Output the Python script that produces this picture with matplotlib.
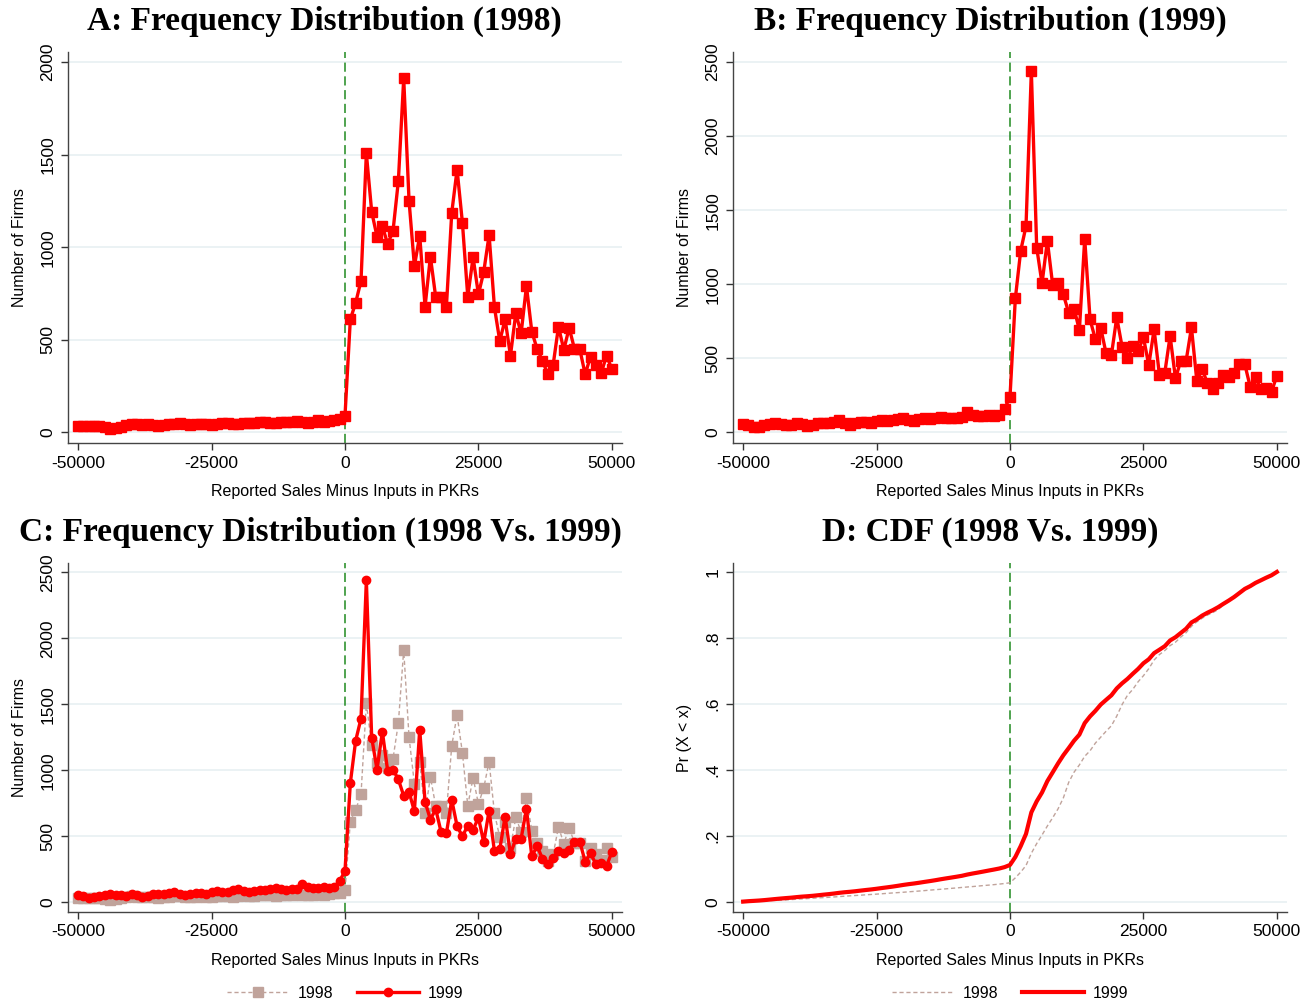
import matplotlib.pyplot as plt
import numpy as np
from matplotlib.lines import Line2D

# bins of 1000 PKR, -50000 .. 50000
bins = np.arange(-50000, 50001, 1000)

freq_1998_neg = [32, 35, 33, 36, 34, 28, 16, 24, 30, 40,
                 45, 42, 38, 44, 40, 36, 38, 42, 45, 48,
                 44, 40, 42, 46, 44, 40, 46, 50, 48, 42,
                 46, 52, 50, 48, 54, 58, 52, 50, 56, 58,
                 54, 60, 56, 52, 58, 64, 55, 60, 68, 72]
freq_1998_pos = [90, 610, 700, 819, 1507, 1192, 1057, 1114, 1017, 1089,
                 1359, 1912, 1251, 898, 1062, 679, 949, 729, 729, 679,
                 1186, 1420, 1132, 733, 945, 745, 868, 1066, 675, 493,
                 610, 414, 643, 535, 790, 544, 450, 387, 313, 364,
                 571, 445, 565, 450, 448, 313, 409, 364, 319, 414,
                 342]

freq_1999_neg = [55, 48, 36, 38, 50, 58, 60, 56, 52, 48,
                 62, 56, 42, 50, 62, 66, 60, 70, 80, 66,
                 52, 62, 72, 70, 64, 76, 84, 78, 82, 92,
                 98, 86, 76, 88, 96, 90, 98, 106, 100, 94,
                 98, 104, 140, 118, 108, 112, 116, 112, 120, 160]
freq_1999_pos = [240, 904, 1225, 1392, 2439, 1248, 1005, 1293, 994, 1005,
                 931, 807, 836, 690, 1308, 762, 627, 706, 533, 522,
                 776, 578, 499, 582, 551, 641, 454, 695, 387, 402,
                 650, 364, 483, 483, 708, 348, 427, 330, 290, 335,
                 387, 371, 398, 459, 459, 308, 371, 290, 297, 274,
                 382]

f98 = np.array(freq_1998_neg + freq_1998_pos)
f99 = np.array(freq_1999_neg + freq_1999_pos)
cdf98 = np.cumsum(f98) / f98.sum()
cdf99 = np.cumsum(f99) / f99.sum()

xticks = [-50000, -25000, 0, 25000, 50000]
xlabel = 'Reported Sales Minus Inputs in PKRs'

RED = '#ff0000'
ROSY = '#c0a39b'
GRID = '#e8f0f2'
SANS = 'Liberation Sans'
SERIF = 'Liberation Serif'

fig = plt.figure(figsize=(13.11, 10.06), dpi=100)
W, H = 1311, 1006


def make_ax(left, top, right, bottom):
    return fig.add_axes([left / W, 1 - bottom / H, (right - left) / W, (bottom - top) / H])


def style(ax, yticks, ylim, ylabels=None, ylabel='Number of Firms'):
    ax.set_xlim(-51900, 51900)
    ax.set_ylim(*ylim)
    ax.set_xticks(xticks)
    ax.set_xticklabels([str(t) for t in xticks], fontfamily=SANS, fontsize=12.5)
    ax.set_yticks(yticks)
    ax.set_yticklabels(ylabels if ylabels else [str(t) for t in yticks],
                       fontfamily=SANS, fontsize=12.5, rotation=90, va='center')
    ax.tick_params(length=5, width=1, color='#333333', pad=4)
    ax.grid(axis='y', color=GRID, lw=1.2)
    ax.set_axisbelow(True)
    for s in ['top', 'right']:
        ax.spines[s].set_visible(False)
    for s in ['left', 'bottom']:
        ax.spines[s].set_color('#444444')
        ax.spines[s].set_linewidth(1)
    ax.axvline(0, color='#1f8a1f', ls=(0, (6, 3)), lw=1.1, zorder=1)
    ax.set_xlabel(xlabel, fontfamily=SANS, fontsize=11.5, labelpad=10)
    ax.set_ylabel(ylabel, fontfamily=SANS, fontsize=11.5, labelpad=10)


# A
axA = make_ax(68, 52, 622, 443)
axA.plot(bins, f98, color=RED, lw=2.4, marker='s', ms=6.5, zorder=3)
style(axA, [0, 500, 1000, 1500, 2000], (-58, 2055))

# B
axB = make_ax(733, 52, 1287, 443)
axB.plot(bins, f99, color=RED, lw=2.4, marker='s', ms=6.5, zorder=3)
style(axB, [0, 500, 1000, 1500, 2000, 2500], (-72, 2568))

# C
axC = make_ax(68, 563, 622, 912)
axC.plot(bins, f98, color=ROSY, lw=1, ls=(0, (3, 2)), marker='s', ms=6.5, zorder=2)
axC.plot(bins, f99, color=RED, lw=2.4, marker='o', ms=6, zorder=3)
style(axC, [0, 500, 1000, 1500, 2000, 2500], (-73, 2570))

# D
axD = make_ax(733, 563, 1287, 912)
axD.plot(bins, cdf98, color=ROSY, lw=1, ls=(0, (3, 2)), zorder=2)
axD.plot(bins, cdf99, color=RED, lw=3, zorder=3)
style(axD, [0, 0.2, 0.4, 0.6, 0.8, 1], (-0.03, 1.027),
      ylabels=['0', '.2', '.4', '.6', '.8', '1'], ylabel='Pr (X < x)')

# titles
title_kw = dict(fontfamily=SERIF, fontweight='bold', fontsize=24, ha='center', va='center')
fig.text(324 / W, 1 - 21 / H, 'A: Frequency Distribution (1998)', **title_kw)
fig.text(990 / W, 1 - 21 / H, 'B: Frequency Distribution (1999)', **title_kw)
fig.text(320 / W, 1 - 532 / H, 'C: Frequency Distribution (1998 Vs. 1999)', **title_kw)
fig.text(990 / W, 1 - 532 / H, 'D: CDF (1998 Vs. 1999)', **title_kw)

# legends
hC = [Line2D([], [], color=ROSY, lw=1, ls=(0, (3, 2)), marker='s', ms=6.5),
      Line2D([], [], color=RED, lw=2.4, marker='o', ms=6)]
hD = [Line2D([], [], color=ROSY, lw=1, ls=(0, (3, 2))),
      Line2D([], [], color=RED, lw=3)]
for hs, cx in [(hC, 345), (hD, 1010)]:
    fig.legend(hs, ['1998', '1999'], loc='center', bbox_to_anchor=(cx / W, 1 - 993 / H),
               ncol=2, frameon=False, handlelength=3.9, handletextpad=0.5,
               columnspacing=1.5, prop={'family': SANS, 'size': 11.5})

fig.savefig('out.png', dpi=100, facecolor='white')
